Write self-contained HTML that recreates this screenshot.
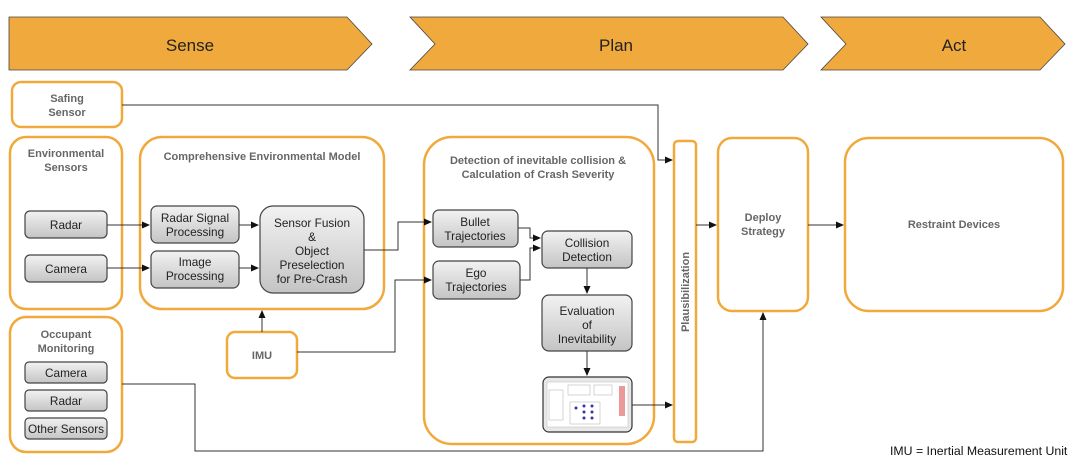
<!DOCTYPE html>
<html><head><meta charset="utf-8"><style>
body{margin:0;background:#fff}
svg{display:block;font-family:"Liberation Sans",sans-serif}
.o{fill:#fff;stroke:#f2a93b;stroke-width:2.5}
.g{fill:url(#gr);stroke:#444;stroke-width:1.2}
.l{fill:none;stroke:#333;stroke-width:1}
.t{font-size:11.8px;fill:#222;text-anchor:middle}
.b{font-size:11px;font-weight:bold;fill:#666;text-anchor:middle}
</style></head><body>
<svg width="1080" height="461" viewBox="0 0 1080 461">
<defs>
<linearGradient id="gr" x1="0" y1="0" x2="0" y2="1"><stop offset="0" stop-color="#f2f2f2"/><stop offset="1" stop-color="#c4c4c4"/></linearGradient>
<marker id="a" markerWidth="8" markerHeight="8" refX="7" refY="4" orient="auto" markerUnits="userSpaceOnUse"><path d="M0,0.5 L8,4 L0,7.5z" fill="#111"/></marker>
</defs>
<path d="M9,17 H347 L372,44 L347,70 H9Z" fill="#f0a93c" stroke="#444" stroke-width="0.8"/>
<path d="M410,17 H783 L808,44 L783,70 H410 L435,44Z" fill="#f0a93c" stroke="#444" stroke-width="0.8"/>
<path d="M821,17 H1040 L1065,44 L1040,70 H821 L846,44Z" fill="#f0a93c" stroke="#444" stroke-width="0.8"/>
<text x="190" y="51" font-size="17" text-anchor="middle" fill="#222">Sense</text>
<text x="616" y="51" font-size="17" text-anchor="middle" fill="#222">Plan</text>
<text x="954" y="51" font-size="17" text-anchor="middle" fill="#222">Act</text>
<rect class="o" x="12" y="82" width="110" height="45" rx="9"/>
<text class="b" x="67" y="102">Safing</text><text class="b" x="67" y="116">Sensor</text>
<rect class="o" x="10" y="137" width="112" height="172" rx="16"/>
<text class="b" x="66" y="157">Environmental</text><text class="b" x="66" y="171">Sensors</text>
<rect class="o" x="10" y="317" width="112" height="135" rx="16"/>
<text class="b" x="66" y="338">Occupant</text><text class="b" x="66" y="352">Monitoring</text>
<rect class="o" x="140" y="137" width="244" height="172" rx="22"/>
<text class="b" x="262" y="160">Comprehensive Environmental Model</text>
<rect class="o" x="227" y="332" width="70" height="46" rx="8"/>
<text class="b" x="262" y="359">IMU</text>
<rect class="o" x="424" y="137" width="230" height="307" rx="28"/>
<text class="b" x="538" y="164">Detection of inevitable collision &amp;</text>
<text class="b" x="538" y="178">Calculation of Crash Severity</text>
<rect class="o" x="674" y="141" width="22" height="301" rx="4"/>
<text class="b" x="0" y="0" transform="translate(689,292) rotate(-90)">Plausibilization</text>
<rect class="o" x="718" y="138" width="90" height="173" rx="14"/>
<text class="b" x="763" y="221">Deploy</text><text class="b" x="763" y="235">Strategy</text>
<rect class="o" x="845" y="138" width="218" height="173" rx="24"/>
<text class="b" x="954" y="228">Restraint Devices</text>
<rect class="g" x="25" y="211" width="82" height="27" rx="5"/><text class="t" x="66" y="229">Radar</text>
<rect class="g" x="25" y="255" width="82" height="27" rx="5"/><text class="t" x="66" y="273">Camera</text>
<rect class="g" x="151" y="206" width="88" height="37" rx="6"/><text class="t" x="195" y="222">Radar Signal</text><text class="t" x="195" y="236">Processing</text>
<rect class="g" x="151" y="251" width="88" height="37" rx="6"/><text class="t" x="195" y="266">Image</text><text class="t" x="195" y="280">Processing</text>
<rect class="g" x="260" y="206" width="104" height="87" rx="13"/>
<text class="t" x="312" y="227">Sensor Fusion</text><text class="t" x="312" y="241">&amp;</text><text class="t" x="312" y="255">Object</text><text class="t" x="312" y="269">Preselection</text><text class="t" x="312" y="283">for Pre-Crash</text>
<rect class="g" x="25" y="362" width="82" height="21" rx="4"/><text class="t" x="66" y="377">Camera</text>
<rect class="g" x="25" y="390" width="82" height="21" rx="4"/><text class="t" x="66" y="405">Radar</text>
<rect class="g" x="25" y="418" width="82" height="21" rx="4"/><text class="t" x="66" y="433">Other Sensors</text>
<rect class="g" x="433" y="210" width="85" height="37" rx="6"/><text class="t" x="475" y="226">Bullet</text><text class="t" x="475" y="240">Trajectories</text>
<rect class="g" x="433" y="261" width="87" height="38" rx="6"/><text class="t" x="476" y="277">Ego</text><text class="t" x="476" y="291">Trajectories</text>
<rect class="g" x="542" y="231" width="90" height="37" rx="6"/><text class="t" x="587" y="247">Collision</text><text class="t" x="587" y="261">Detection</text>
<rect class="g" x="542" y="295" width="90" height="56" rx="7"/><text class="t" x="587" y="315">Evaluation</text><text class="t" x="587" y="329">of</text><text class="t" x="587" y="343">Inevitability</text>
<rect x="543" y="377" width="89" height="55" rx="6" fill="#e8e8e8" stroke="#333" stroke-width="1.2"/>
<rect x="547" y="382" width="81" height="45" fill="#fff" stroke="#bbb" stroke-width="0.5"/>
<rect x="549" y="390" width="14" height="30" fill="none" stroke="#aaa" stroke-width="0.5"/>
<rect x="568" y="385" width="22" height="10" fill="none" stroke="#aaa" stroke-width="0.5"/>
<rect x="594" y="385" width="18" height="10" fill="none" stroke="#aaa" stroke-width="0.5"/>
<rect x="570" y="402" width="30" height="22" fill="none" stroke="#aaa" stroke-width="0.5"/>
<rect x="619" y="386" width="6" height="30" fill="#d55" opacity="0.6"/>
<g fill="#33a">
<circle cx="576" cy="408" r="1.5"/><circle cx="584" cy="406" r="1.5"/><circle cx="584" cy="412" r="1.5"/><circle cx="584" cy="418" r="1.5"/><circle cx="592" cy="406" r="1.5"/><circle cx="592" cy="412" r="1.5"/><circle cx="592" cy="418" r="1.5"/></g>
<path class="l" d="M122,105 H658 V160 H672" marker-end="url(#a)"/>
<path class="l" d="M107,225 H149" marker-end="url(#a)"/>
<path class="l" d="M107,268 H149" marker-end="url(#a)"/>
<path class="l" d="M239,225 H258" marker-end="url(#a)"/>
<path class="l" d="M239,268 H258" marker-end="url(#a)"/>
<path class="l" d="M364,250 H398 V222 H431" marker-end="url(#a)"/>
<path class="l" d="M297,352 H395 V280 H431" marker-end="url(#a)"/>
<path class="l" d="M262,332 V311" marker-end="url(#a)"/>
<path class="l" d="M518,228 H530 V238 H540" marker-end="url(#a)"/>
<path class="l" d="M520,280 H530 V248 H540" marker-end="url(#a)"/>
<path class="l" d="M587,268 V293" marker-end="url(#a)"/>
<path class="l" d="M587,351 V375" marker-end="url(#a)"/>
<path class="l" d="M632,405 H672" marker-end="url(#a)"/>
<path class="l" d="M696,225 H716" marker-end="url(#a)"/>
<path class="l" d="M808,225 H843" marker-end="url(#a)"/>
<path class="l" d="M122,384 H195 V451 H763 V313" marker-end="url(#a)"/>
<text x="890" y="455" font-size="12.3" fill="#111">IMU = Inertial Measurement Unit</text>
</svg>
</body></html>
